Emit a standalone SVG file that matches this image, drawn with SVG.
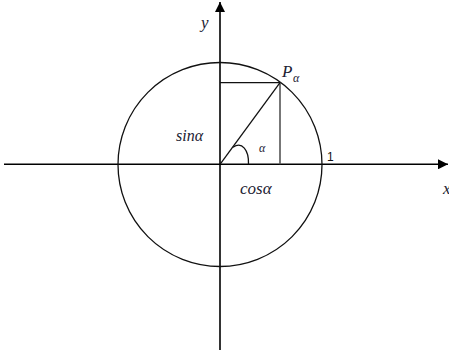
<svg xmlns="http://www.w3.org/2000/svg" width="449" height="352" viewBox="0 0 449 352">
<style>
.ax{stroke:#000;stroke-width:1.6;fill:none}
.ln{stroke:#111;stroke-width:1.3;fill:none}
.t{font-family:"Liberation Serif","DejaVu Serif",serif;font-style:italic;fill:#1c2233}
.n{font-family:"Liberation Sans","DejaVu Sans",sans-serif;fill:#111}
</style>
<defs>
<marker id="ar" viewBox="0 0 10 10" refX="10" refY="5" markerWidth="10" markerHeight="10" markerUnits="userSpaceOnUse" orient="auto">
<path d="M0,0 L10,5 L0,10 z" fill="#000"/>
</marker>
</defs>
<rect width="449" height="352" fill="#fff"/>
<g id="connectors">
<line class="ax" x1="4" y1="164.3" x2="448" y2="164.3" marker-end="url(#ar)"/>
<line class="ax" x1="220" y1="350" x2="220" y2="2" marker-end="url(#ar)"/>
<circle class="ln" cx="220" cy="164.5" r="102"/>
<line class="ln" x1="220" y1="82.7" x2="280" y2="82.7"/>
<line x1="280" y1="82.7" x2="280" y2="164.3" style="stroke:#555;stroke-width:1.6"/>
<line class="ln" x1="220" y1="164.3" x2="280" y2="82.7"/>
<path class="ln" d="M233 147.3 C242 141 249 150 248.5 164.3"/>
</g>
<g id="labels">
<text class="t" x="201" y="28" font-size="17">y</text>
<text class="t" x="282" y="77" font-size="17">P</text>
<text class="t" x="293" y="82" font-size="12">α</text>
<text class="t" x="176" y="140.5" font-size="16">sinα</text>
<text class="t" x="259" y="152" font-size="12">α</text>
<text class="n" x="327" y="161" font-size="12">1</text>
<text class="t" x="240" y="194" font-size="17">cosα</text>
<text class="t" x="443" y="194" font-size="17">x</text>
</g>
</svg>
